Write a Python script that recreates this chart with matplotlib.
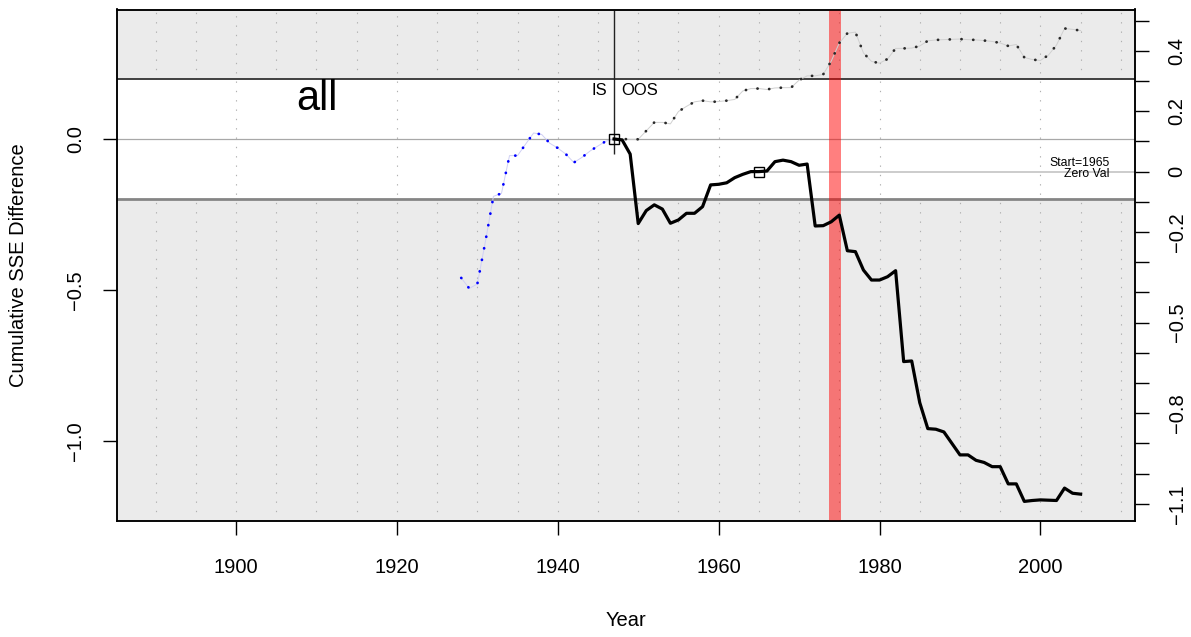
import numpy as np
import matplotlib.pyplot as plt

plt.rcParams['font.family'] = ['Liberation Sans', 'DejaVu Sans']

# in-sample cumulative SSE difference, plotted in blue up to the OOS start
is_years = np.arange(1928, 1948)
is_sse = [-0.46, -0.495, -0.48, -0.34, -0.19, -0.18, -0.055, -0.055, -0.017, 0.02,
          0.015, -0.014, -0.03, -0.05, -0.078, -0.061, -0.04, -0.023, -0.007, 0.0]

# out-of-sample cumulative SSE difference (solid black)
oos_years = np.arange(1947, 2006)
oos_sse = [0.0, -0.003, -0.05, -0.28, -0.237, -0.218, -0.232, -0.279, -0.268, -0.246,
           -0.246, -0.224, -0.152, -0.15, -0.145, -0.128, -0.117, -0.108, -0.108, -0.106,
           -0.075, -0.07, -0.075, -0.087, -0.083, -0.288, -0.287, -0.274, -0.252, -0.37,
           -0.373, -0.434, -0.467, -0.467, -0.456, -0.436, -0.737, -0.735, -0.873, -0.959,
           -0.961, -0.97, -1.008, -1.046, -1.046, -1.064, -1.071, -1.085, -1.085, -1.142,
           -1.142, -1.2, -1.197, -1.195, -1.196, -1.197, -1.156, -1.173, -1.176]

# in-sample estimate carried forward (dotted black)
is_fwd = [0.0, 0.0, -0.001, -0.001, 0.027, 0.055, 0.055, 0.05, 0.091, 0.108,
          0.123, 0.127, 0.123, 0.124, 0.127, 0.131, 0.159, 0.167, 0.167, 0.164,
          0.169, 0.17, 0.17, 0.195, 0.209, 0.209, 0.214, 0.258, 0.318, 0.35,
          0.354, 0.285, 0.257, 0.251, 0.265, 0.30, 0.30, 0.301, 0.308, 0.325,
          0.328, 0.329, 0.33, 0.331, 0.329, 0.328, 0.326, 0.323, 0.318, 0.308,
          0.313, 0.27, 0.263, 0.26, 0.278, 0.311, 0.366, 0.363, 0.359]

oos_start = 1947
zero_year = 1965
oil_shock = (1973.75, 1975.2)
band = 0.2

x_ticks = [1900, 1920, 1940, 1960, 1980, 2000]
left_ticks = [0.0, -0.5, -1.0]
left_labels = ['0.0', '\u22120.5', '\u22121.0']
right_vals = np.round(np.arange(0.5, -1.15, -0.1), 1)
right_shown = [0.4, 0.2, 0.0, -0.2, -0.5, -0.8, -1.1]

fig = plt.figure(figsize=(11.91, 6.37), dpi=100)
ax = fig.add_axes([117.3 / 1191, 1 - 521 / 637, (1135 - 117.3) / 1191, (521 - 9.5) / 637])
xlim = (1885.24, 2011.76)
ylim = (-1.2649, 0.4288)
ax.set_xlim(xlim)
ax.set_ylim(ylim)

# shaded zones outside +-0.2
ax.axhspan(band, 1, color='#EBEBEB', lw=0, zorder=0)
ax.axhspan(-2, -band, color='#EBEBEB', lw=0, zorder=0)

dots = (0, (1.2, 7.2))
for yr in range(1890, 2011, 5):
    if yr in x_ticks:
        ax.vlines(yr, ylim[0], ylim[1], color='#B0B0B0', lw=0.8, linestyles=[dots], zorder=1)
    else:
        ax.vlines(yr, band, ylim[1], color='#B0B0B0', lw=0.8, linestyles=[dots], zorder=1)
        ax.vlines(yr, ylim[0], -band, color='#B0B0B0', lw=0.8, linestyles=[dots], zorder=1)

zero_val = oos_sse[list(oos_years).index(zero_year)]

ax.axhline(band, color='#404040', lw=1.4, zorder=2)
ax.axhline(0.0, color='#A8A8A8', lw=0.9, zorder=2)
ax.axhline(-band, color='#858585', lw=2.0, zorder=2)
ax.hlines(zero_val, zero_year, xlim[1], color='#C4C4C4', lw=1.2, zorder=2)

ax.axvspan(oil_shock[0], oil_shock[1], color=(1, 0, 0, 0.5), lw=0, zorder=3)

ax.vlines(oos_start, -0.05, ylim[1], color='#222222', lw=1.0, zorder=4)

# dotted series: faint connecting line with round dots on top
ax.plot(is_years, is_sse, color='#D0D0F4', lw=0.7, zorder=4)
ax.plot(is_years, is_sse, color='#0000FF', lw=2.0, linestyle=(0, (0.05, 4.18)),
        dash_capstyle='round', zorder=5)
ax.plot(oos_years, is_fwd, color='#D0D0D0', lw=0.7, zorder=4)
ax.plot(oos_years, is_fwd, color='#2A2A2A', lw=2.0, linestyle=(0, (0.05, 4.18)),
        dash_capstyle='round', zorder=5)

ax.plot(oos_years, oos_sse, color='black', lw=2.3, solid_joinstyle='round', zorder=6)

ax.plot([oos_start, zero_year], [0.0, zero_val], linestyle='none', marker='s', ms=7.7,
        mfc='none', mec='black', mew=1.0, zorder=7)

ax.text(oos_start - 0.9, 0.16, 'IS', ha='right', va='center', fontsize=12)
ax.text(oos_start + 0.85, 0.16, 'OOS', ha='left', va='center', fontsize=12)
ax.text(1910, 0.096, 'all', ha='center', va='baseline', fontsize=30)
ax.text(2008.6, -0.078, 'Start=%d' % zero_year, ha='right', va='center', fontsize=8.8)
ax.text(2008.6, -0.116, 'Zero Val', ha='right', va='center', fontsize=8.8)

ax.set_xticks(x_ticks)
ax.set_xticklabels([str(x) for x in x_ticks])
ax.set_yticks(left_ticks)
ax.set_yticklabels(left_labels, rotation=90, va='center')
ax.tick_params(axis='both', direction='out', length=10.4, width=1.0, labelsize=14.5)
ax.tick_params(axis='x', pad=16)
ax.tick_params(axis='y', pad=13)
for s in ax.spines.values():
    s.set_linewidth(1.1)

ax2 = ax.twinx()
ax2.set_ylim(ylim)
ax2.set_yticks(right_vals + zero_val)
ax2.set_yticklabels([('%g' % v).replace('-', '\u2212') if v in right_shown else ''
                     for v in right_vals], rotation=90, va='center')
ax2.tick_params(axis='y', direction='out', length=10.4, width=1.0, labelsize=14.5, pad=13)
for s in ax2.spines.values():
    s.set_linewidth(1.1)

fig.text(18.5 / 1191, 1 - 265 / 637, 'Cumulative SSE Difference', rotation=90,
         ha='center', va='center', fontsize=14.5)
fig.text(625.5 / 1191, 1 - 621 / 637, 'Year', ha='center', va='center', fontsize=14.5)

fig.savefig('out.png', dpi=100)
